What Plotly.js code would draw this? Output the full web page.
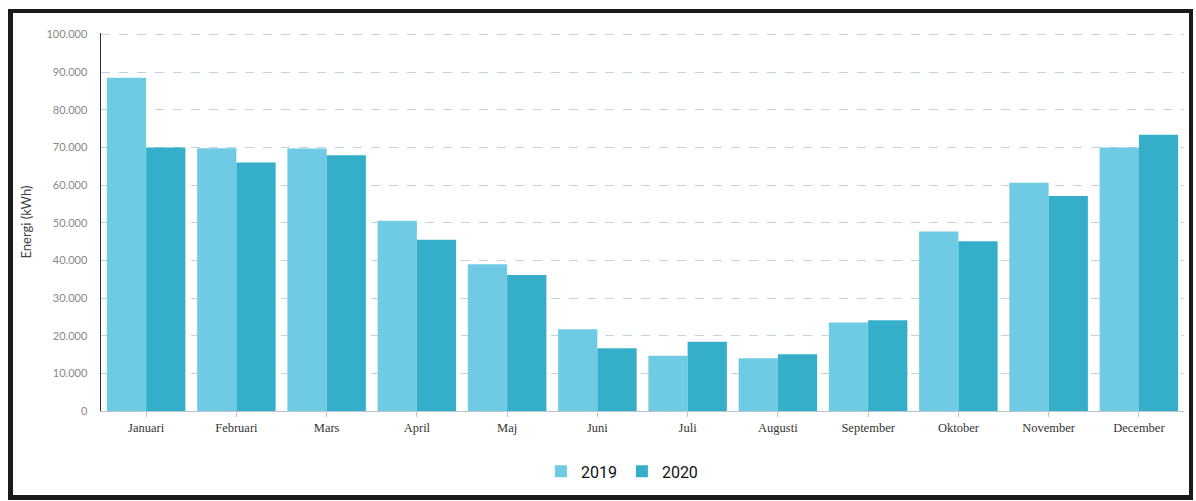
<!DOCTYPE html>
<html>
<head>
<meta charset="utf-8">
<script src="https://cdn.plot.ly/plotly-3.0.1.min.js"></script>
<style>
  html, body { margin: 0; padding: 0; background: #fff; }
  #frame { position: absolute; left: 8px; top: 9px; width: 1176px; height: 482px; border: 4px solid #1a1a1a; border-left-width: 5px; border-bottom-width: 5px; }
  #chart { position: absolute; left: 0; top: 0; width: 1196px; height: 501px; }
</style>
</head>
<body>
<div id="frame"></div>
<div id="chart"></div>
<script>
const months = ["Januari", "Februari", "Mars", "April", "Maj", "Juni", "Juli", "Augusti", "September", "Oktober", "November", "December"];
const values2019 = [88500, 69800, 69700, 50500, 39000, 21700, 14700, 14000, 23500, 47700, 60600, 70000];
const values2020 = [70000, 66000, 67900, 45500, 36100, 16700, 18400, 15100, 24100, 45100, 57100, 73400];
const yTicks = [0, 10000, 20000, 30000, 40000, 50000, 60000, 70000, 80000, 90000, 100000];

const traces = [
  { type: "bar", name: "2019", x: months, y: values2019, marker: { color: "#6fcbe4" }, hoverinfo: "x+y" },
  { type: "bar", name: "2020", x: months, y: values2020, marker: { color: "#35afc9" }, hoverinfo: "x+y" }
];

const layout = {
  width: 1196, height: 501,
  paper_bgcolor: "rgba(0,0,0,0)",
  plot_bgcolor: "rgba(0,0,0,0)",
  margin: { l: 101, r: 12, t: 33, b: 90 },
  separators: ",.",
  barmode: "group",
  bargap: 0.13,
  bargroupgap: 0,
  showlegend: true,
  legend: {
    orientation: "h", x: 0.481, xanchor: "center", y: -0.115, yanchor: "top",
    font: { family: "Roboto, Arial, sans-serif", size: 16, color: "#111" },
    itemwidth: 30
  },
  xaxis: {
    type: "category",
    showgrid: false,
    showline: true, linecolor: "#b8c4cc", linewidth: 1,
    ticks: "outside", ticklen: 5, tickcolor: "#b8c4cc",
    ticklabelstandoff: 0,
    tickfont: { family: "Liberation Serif, DejaVu Serif, serif", size: 12.5, color: "#333" }
  },
  yaxis: {
    range: [0, 100400],
    tickvals: yTicks,
    tickformat: ",d",
    showgrid: true, gridcolor: "#c3d2dc", griddash: "dash", gridwidth: 1,
    showline: true, linecolor: "#333", linewidth: 1.5,
    zeroline: false,
    ticks: "", ticklen: 0,
    ticklabelstandoff: 10,
    tickfont: { family: "Lato, Arial, sans-serif", size: 11, color: "#888" },
    title: { text: "Energi (kWh)", font: { family: "Lato, Arial, sans-serif", size: 13, color: "#444" }, standoff: 12 }
  }
};

Plotly.newPlot("chart", traces, layout, { displayModeBar: false, staticPlot: true });
</script>
</body>
</html>
